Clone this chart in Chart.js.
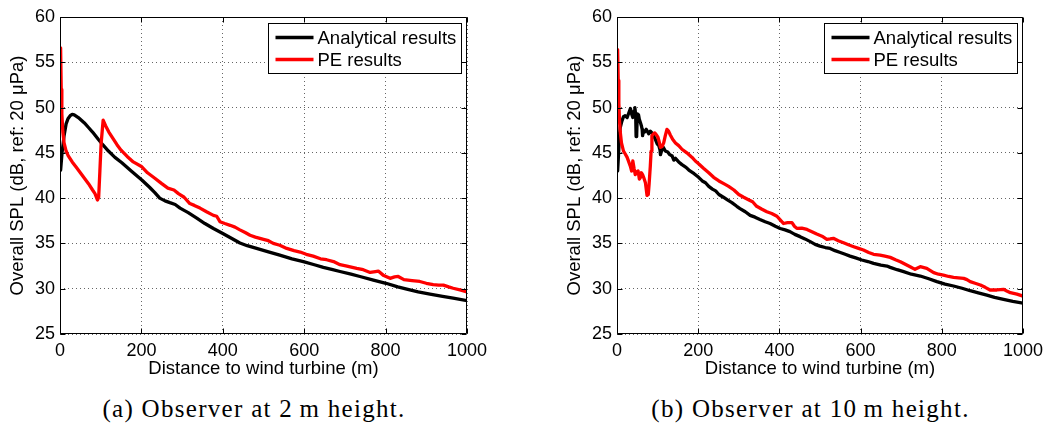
<!DOCTYPE html>
<html><head><meta charset="utf-8">
<script src="https://cdn.jsdelivr.net/npm/chart.js@4.4.1/dist/chart.umd.min.js"></script>
<style>
html,body{margin:0;padding:0;background:#fff;}
body{width:1049px;height:430px;position:relative;overflow:hidden;}
.cw{position:absolute;top:0;height:390px;}
.cap{position:absolute;top:396px;font-family:"Liberation Serif",serif;font-size:25px;line-height:25px;white-space:nowrap;text-align:center;letter-spacing:1.3px;color:#000;}
</style></head>
<body>
<div class="cw" style="left:0;width:557px"><canvas id="c1" width="557" height="390"></canvas></div>
<div class="cw" style="left:557px;width:492px"><canvas id="c2" width="492" height="390"></canvas></div>
<div class="cap" style="left:0;width:508px">(a) Observer at 2&#8201;m height.</div>
<div class="cap" style="left:560px;width:501px">(b) Observer at 10&#8201;m height.</div>
<script>
// ---- Data ----
const seriesNames = ["Analytical results", "PE results"];
const xTicks = [0, 200, 400, 600, 800, 1000];
const yTicks = [25, 30, 35, 40, 45, 50, 55, 60];
const xAxisTitle = "Distance to wind turbine (m)";
const yAxisTitle = "Overall SPL (dB, ref: 20 \u03bcPa)";

// (a) observer at 2 m height
const dist2mAnalytical = [1.5,5,10,15,20,25,30,35,45,60,70,80,94,105,119,135,152,175,201,220,233,245,258,270,283,295,315,336,356,377,400,420,442,460,483,510,540,570,598,625,647,670,688,715,737,770,801,830,852,880,909,940,966,1000];
const spl2mAnalytical = [43.1,45.0,46.9,48.2,48.8,49.1,49.25,49.2,48.9,48.3,47.8,47.3,46.5,45.9,45.2,44.5,43.9,43.0,42.0,41.2,40.6,40.0,39.7,39.5,39.3,38.9,38.4,37.8,37.2,36.65,36.1,35.6,35.05,34.75,34.45,34.1,33.7,33.3,33.0,32.65,32.35,32.1,31.9,31.6,31.35,30.95,30.6,30.2,29.95,29.65,29.4,29.15,28.95,28.68];
const dist2mPE = [1.5,3,4.5,7,10,15,20,30,40,50,60,70,80,86,92,95,98,101,106,112,120,130,140,150,165,180,200,215,233,250,265,280,291,305,319,330,344,360,377,385,393,405,418,430,442,455,467,480,500,512,524,540,557,575,590,605,622,640,655,672,688,705,729,745,762,775,782,794,811,822,831,845,865,884,900,917,930,942,955,966,985,1000];
const spl2mPE = [56.6,52.0,49.3,47.3,46.1,45.2,44.7,44.0,43.4,42.8,42.2,41.6,40.9,40.5,39.8,40.1,43.0,46.0,48.6,48.0,47.3,46.6,45.9,45.3,44.6,44.0,43.5,42.8,42.2,41.6,41.1,40.9,40.5,40.1,39.4,39.2,38.9,38.5,38.1,38.0,37.4,37.2,37.0,36.8,36.5,36.2,35.9,35.7,35.45,35.3,35.0,34.8,34.45,34.2,34.05,33.8,33.6,33.3,33.2,33.0,32.65,32.5,32.25,32.1,31.8,31.9,31.95,31.5,31.15,31.3,31.35,31.0,30.9,30.8,30.6,30.45,30.4,30.4,30.2,30.05,29.85,29.65];

// (b) observer at 10 m height
const dist10mAnalytical = [1.5,4,6,8,12,16,20,25,29,33,36,39,42,44,46,47,48.5,50,53,55,58,60,62,63,65,68,72,78,82,86,90,94.5,99,103,106,107,109,111,114,119,125,130,136,140,144,152,160,170,177,190,201,210,218,226,235,243,251,262,272,283,295,303,316,328,340,352,365,377,390,402,414,426,438,451,463,476,488,500,513,525,537,550,562,574,588,603,618,632,650,665,673,690,706,725,747,768,788,808,829,850,870,890,911,930,952,975,1000];
const spl10mAnalytical = [43.0,45.0,47.0,47.8,48.5,49.0,49.1,48.9,49.4,49.9,49.3,48.9,49.6,50.0,49.2,46.8,47.0,49.3,49.2,48.7,48.3,48.0,47.6,46.9,47.4,47.3,47.6,47.1,47.4,47.2,46.9,46.5,46.0,45.8,45.3,44.8,45.1,45.4,45.6,45.2,45.1,44.8,44.65,44.2,44.4,44.0,43.7,43.4,43.1,42.7,42.3,41.9,41.7,41.3,41.0,40.8,40.4,40.1,39.8,39.5,39.1,38.85,38.5,38.1,37.9,37.65,37.4,37.2,36.9,36.65,36.5,36.3,36.0,35.75,35.5,35.2,34.9,34.7,34.55,34.45,34.2,34.0,33.8,33.6,33.4,33.17,33.0,32.8,32.6,32.5,32.36,32.1,31.88,31.6,31.4,31.1,30.78,30.5,30.3,30.05,29.78,29.55,29.3,29.05,28.82,28.6,28.4];
const dist10mPE = [1.5,3,4.5,6,8,11,16,20,25,29,33,36,39,42,45,48,52,55,58,60,63,66,70,72,74,77,79,82,84,86,90,93,97,101,104,107,111,115,119,123,127,131,137,144,152,160,172,185,193,201,213,226,238,251,263,275,288,300,312,325,334,344,356,369,381,394,402,410,420,431,437,443,455,468,480,492,505,517,525,533,545,558,570,583,595,607,620,632,648,660,673,686,698,710,722,734,747,763,772,780,792,804,817,829,841,854,862,870,882,895,907,919,936,952,960,969,985,1000];
const spl10mPE = [56.4,53.0,50.5,48.7,47.3,46.1,45.2,44.9,44.5,44.0,43.5,43.0,44.1,43.3,42.6,42.9,43.0,42.1,42.3,42.8,42.6,42.25,41.7,41.0,40.3,40.4,41.5,43.5,45.2,46.9,47.1,47.2,47.0,46.7,46.2,45.6,45.7,46.1,46.9,47.6,47.4,47.0,46.5,46.1,45.8,45.4,45.0,44.5,44.1,43.8,43.3,42.8,42.3,41.9,41.6,41.3,40.9,40.4,40.1,39.8,39.6,39.1,38.8,38.5,38.3,38.0,37.6,37.2,37.3,37.3,36.9,36.66,36.7,36.55,36.3,36.04,35.8,35.45,35.5,35.56,35.3,35.08,34.85,34.64,34.45,34.27,34.0,33.8,33.72,33.6,33.46,33.2,32.98,32.7,32.43,32.14,32.43,32.25,32.0,31.77,31.6,31.5,31.35,31.25,31.2,31.14,31.0,30.78,30.6,30.41,30.15,29.86,29.86,29.93,29.75,29.56,29.4,29.19];

const seriesColors = ["#000000", "#ff0000"];

function pts(xs, ys) { return xs.map((x, i) => ({x: x, y: ys[i]})); }

const FONT = "'Liberation Sans', Arial, Helvetica, sans-serif";

const framePlugin = {
  id: 'frameLegend',
  afterDatasetsDraw(chart) {
    const {ctx, chartArea: a, scales: {x, y}} = chart;
    const L = Math.round(a.left) + 0.5, R = Math.round(a.right) - 0.5;
    const T = Math.round(a.top) + 0.5, B = Math.round(a.bottom) - 0.5;
    ctx.save();
    ctx.strokeStyle = '#000';
    ctx.lineWidth = 1;
    ctx.beginPath();
    ctx.rect(L, T, R - L, B - T);
    const tl = 5;
    x.ticks.forEach(t => {
      const px = Math.round(x.getPixelForValue(t.value)) + 0.5;
      ctx.moveTo(px, B); ctx.lineTo(px, B - tl);
      ctx.moveTo(px, T); ctx.lineTo(px, T + tl);
    });
    y.ticks.forEach(t => {
      const py = Math.round(y.getPixelForValue(t.value)) + 0.5;
      ctx.moveTo(L, py); ctx.lineTo(L + tl, py);
      ctx.moveTo(R, py); ctx.lineTo(R - tl, py);
    });
    ctx.stroke();
    ctx.restore();
  },
  afterDraw(chart) {
    const {ctx, chartArea: a} = chart;
    const w = 193, h = 50;
    const bx = Math.round(a.right - 6 - w) + 0.5, by = Math.round(a.top + 6) + 0.5;
    ctx.save();
    ctx.fillStyle = '#fff';
    ctx.fillRect(bx, by, w, h);
    ctx.strokeStyle = '#000';
    ctx.lineWidth = 1;
    ctx.strokeRect(bx, by, w, h);
    ctx.font = "18.5px " + FONT;
    ctx.textBaseline = 'middle';
    ctx.textAlign = 'left';
    chart.data.datasets.forEach((ds, i) => {
      const ry = by + 14 + i * 22;
      ctx.strokeStyle = ds.borderColor;
      ctx.lineWidth = 3.3;
      ctx.beginPath();
      ctx.moveTo(bx + 7, ry); ctx.lineTo(bx + 45, ry);
      ctx.stroke();
      ctx.fillStyle = '#000';
      ctx.fillText(ds.label, bx + 49, ry + 1);
    });
    ctx.restore();
  }
};

function makeChart(id, rightPad, dA, sA, dP, sP) {
  return new Chart(document.getElementById(id), {
    type: 'line',
    data: {
      datasets: [
        {label: seriesNames[0], data: pts(dA, sA), borderColor: seriesColors[0], borderWidth: 3.3, borderJoinStyle: 'round', borderCapStyle: 'round', pointRadius: 0, tension: 0, order: 1, fill: false},
        {label: seriesNames[1], data: pts(dP, sP), borderColor: seriesColors[1], borderWidth: 3.3, borderJoinStyle: 'round', borderCapStyle: 'round', pointRadius: 0, tension: 0, order: 0, fill: false}
      ]
    },
    options: {
      responsive: false,
      animation: false,
      devicePixelRatio: 1,
      events: [],
      layout: {padding: {left: 0, top: 17, right: rightPad, bottom: 0}},
      plugins: {legend: {display: false}, tooltip: {enabled: false}},
      scales: {
        x: {
          type: 'linear', min: xTicks[0], max: xTicks[xTicks.length - 1],
          afterBuildTicks: s => { s.ticks = xTicks.map(v => ({value: v})); },
          afterFit: s => { s.height = 56; },
          ticks: {padding: 6, color: '#000', font: {family: FONT, size: 18}, maxRotation: 0, autoSkip: false, callback: v => String(v)},
          grid: {color: 'rgba(0,0,0,0.6)', lineWidth: 1, drawTicks: false},
          border: {display: false, dash: [1, 3]},
          title: {display: true, text: xAxisTitle, color: '#000', font: {family: FONT, size: 18.5}, padding: {top: 0, bottom: 9.5}}
        },
        y: {
          type: 'linear', min: yTicks[0], max: yTicks[yTicks.length - 1],
          afterBuildTicks: s => { s.ticks = yTicks.map(v => ({value: v})); },
          afterFit: s => { s.width = 60; },
          ticks: {padding: 5, color: '#000', font: {family: FONT, size: 18}, autoSkip: false, callback: v => String(v)},
          grid: {color: 'rgba(0,0,0,0.6)', lineWidth: 1, drawTicks: false},
          border: {display: false, dash: [1, 3]},
          title: {display: true, text: yAxisTitle, color: '#000', font: {family: FONT, size: 18.5}, padding: {top: 6.5, bottom: 0}}
        }
      }
    },
    plugins: [framePlugin]
  });
}

makeChart('c1', 90, dist2mAnalytical, spl2mAnalytical, dist2mPE, spl2mPE);
makeChart('c2', 26, dist10mAnalytical, spl10mAnalytical, dist10mPE, spl10mPE);
</script>
</body></html>
